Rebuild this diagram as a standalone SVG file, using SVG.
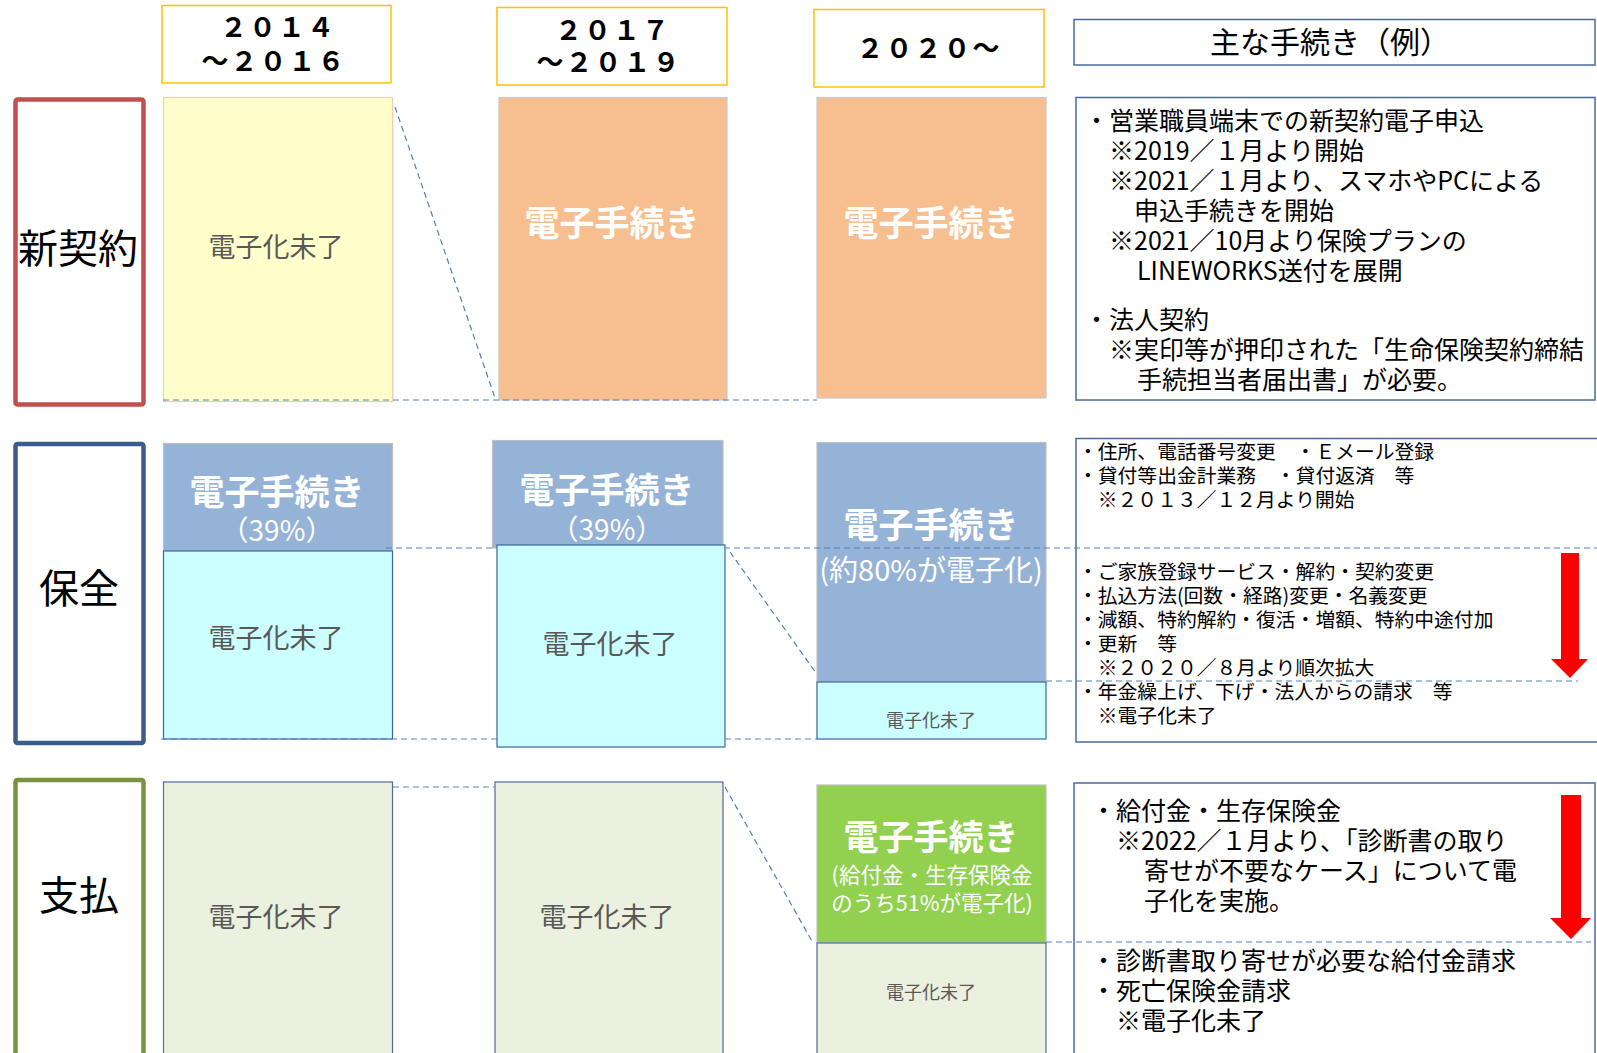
<svg xmlns="http://www.w3.org/2000/svg" width="1597" height="1053" viewBox="0 0 1597 1053">
<style>
text { font-family: "Noto Sans CJK JP", "Noto Sans", sans-serif; }
.hdr { fill:#FFFFFF; stroke:#FFC000; stroke-width:1.5; }
.yr { font-size:27px; font-weight:bold; fill:#000; text-anchor:middle; letter-spacing:2px; }
.lbl { fill:#FFFFFF; stroke-width:4.5; }
.lbltx { font-size:40px; fill:#000; text-anchor:middle; }
.yel { fill:#FFFFCC; stroke:#F8CBAD; stroke-width:1.2; }
.org { fill:#F7BF8F; stroke:#C9C9C9; stroke-width:1.2; }
.blu { fill:#95B3D7; stroke:#BFBFBF; stroke-width:1.2; }
.cyn { fill:#CCFFFF; stroke:#3A66A0; stroke-width:1.2; }
.pgr { fill:#EBF1DE; stroke:#4F6C9A; stroke-width:1.2; }
.grn { fill:#92D050; stroke:#BFBFBF; stroke-width:1.2; }
.rbox { fill:#FFFFFF; stroke:#4A6A9B; stroke-width:1.5; }
.ed { font-size:35px; font-weight:bold; fill:#FFFFFF; text-anchor:middle; }
.edsub { font-size:28px; fill:#FFFFFF; text-anchor:middle; }
.mi { font-size:27px; fill:#595959; text-anchor:middle; }
.mis { font-size:18px; fill:#595959; text-anchor:middle; }
.d25 { font-size:25px; fill:#000; }
.d19 { font-size:19.8px; fill:#000; }
.dash { stroke:#4F81BD; stroke-width:1.2; stroke-dasharray:6 4; fill:none; }
.arr { fill:#FF0000; }
</style>

<!-- Column headers -->
<g id="hdr-2014">
  <rect class="hdr" x="162" y="5.5" width="229" height="77.5"/>
  <text class="yr"><tspan x="278" y="37">２０１４</tspan><tspan x="274" y="71">～２０１６</tspan></text>
</g>
<g id="hdr-2017">
  <rect class="hdr" x="497" y="7.5" width="230" height="77.5"/>
  <text class="yr"><tspan x="613" y="40">２０１７</tspan><tspan x="609" y="72">～２０１９</tspan></text>
</g>
<g id="hdr-2020">
  <rect class="hdr" x="814" y="9.5" width="230" height="77.5"/>
  <text class="yr" x="929" y="58">２０２０～</text>
</g>
<g id="hdr-main">
  <rect class="rbox" x="1074" y="19.5" width="521" height="45.5"/>
  <text x="1330" y="53" style="font-size:30px;fill:#000;text-anchor:middle;">主な手続き（例）</text>
</g>

<!-- Row labels -->
<g id="row-shinkeiyaku">
  <rect class="lbl" x="15.5" y="99.5" width="128" height="305" rx="2" stroke="#C0504D"/>
  <text class="lbltx" x="78" y="263">新契約</text>
</g>
<g id="row-hozen">
  <rect class="lbl" x="15.5" y="444" width="128" height="299" rx="2" stroke="#385D8A"/>
  <text class="lbltx" x="79" y="603">保全</text>
</g>
<g id="row-shiharai">
  <rect class="lbl" x="15.5" y="780" width="128" height="290" rx="2" stroke="#77933C"/>
  <text class="lbltx" x="79" y="910">支払</text>
</g>

<!-- New contract row -->
<g id="nc-2014">
  <rect class="yel" x="163.5" y="97.5" width="229" height="304"/>
  <text class="mi" x="276" y="257">電子化未了</text>
</g>
<g id="nc-2017">
  <rect class="org" x="499" y="97.5" width="228" height="302.5"/>
  <text class="ed" x="612" y="236">電子手続き</text>
</g>
<g id="nc-2020">
  <rect class="org" x="817" y="97.5" width="229" height="300.5"/>
  <text class="ed" x="931" y="236">電子手続き</text>
</g>
<g id="nc-desc">
  <rect class="rbox" x="1076" y="97.5" width="519" height="302.5"/>
  <text class="d25">
    <tspan x="1084" y="130">・営業職員端末での新契約電子申込</tspan>
    <tspan x="1109" y="160">※2019／１月より開始</tspan>
    <tspan x="1109" y="190">※2021／１月より、スマホやPCによる</tspan>
    <tspan x="1134" y="220">申込手続きを開始</tspan>
    <tspan x="1109" y="250">※2021／10月より保険プランの</tspan>
    <tspan x="1137" y="280">LINEWORKS送付を展開</tspan>
  </text>
  <text class="d25">
    <tspan x="1084" y="329">・法人契約</tspan>
    <tspan x="1109" y="359">※実印等が押印された「生命保険契約締結</tspan>
    <tspan x="1137" y="389">手続担当者届出書」が必要。</tspan>
  </text>
</g>

<!-- Maintenance row -->
<g id="hz-2014">
  <rect class="blu" x="163.5" y="443.5" width="229" height="107.5"/>
  <text class="ed" x="277" y="505">電子手続き</text>
  <text class="edsub" x="277" y="541">（39%）</text>
  <rect class="cyn" x="163.5" y="551" width="229" height="188"/>
  <text class="mi" x="276" y="648">電子化未了</text>
</g>
<g id="hz-2017">
  <rect class="blu" x="492.5" y="440.5" width="230.5" height="107.5"/>
  <text class="ed" x="607" y="503">電子手続き</text>
  <text class="edsub" x="607" y="540">（39%）</text>
  <rect class="cyn" x="497" y="545" width="228" height="202"/>
  <text class="mi" x="610" y="654">電子化未了</text>
</g>
<g id="hz-2020">
  <rect class="blu" x="817" y="442.5" width="229" height="239.5"/>
  <text class="ed" x="931" y="538">電子手続き</text>
  <text class="edsub" x="931" y="581" style="font-size:29px">(約80%が電子化)</text>
  <rect class="cyn" x="817" y="682" width="229" height="57"/>
  <text class="mis" x="931" y="727">電子化未了</text>
</g>
<g id="hz-desc">
  <rect class="rbox" x="1076" y="438.5" width="530" height="303.5"/>
  <text class="d19">
    <tspan x="1078" y="459">・住所、電話番号変更　・Ｅメール登録</tspan>
    <tspan x="1078" y="483">・貸付等出金計業務　・貸付返済　等</tspan>
    <tspan x="1078" y="507">　※２０１３／１２月より開始</tspan>
  </text>
  <text class="d19">
    <tspan x="1078" y="579">・ご家族登録サービス・解約・契約変更</tspan>
    <tspan x="1078" y="603">・払込方法(回数・経路)変更・名義変更</tspan>
    <tspan x="1078" y="627">・減額、特約解約・復活・増額、特約中途付加</tspan>
    <tspan x="1078" y="651">・更新　等</tspan>
    <tspan x="1078" y="675">　※２０２０／８月より順次拡大</tspan>
  </text>
  <text class="d19">
    <tspan x="1078" y="699">・年金繰上げ、下げ・法人からの請求　等</tspan>
    <tspan x="1078" y="723">　※電子化未了</tspan>
  </text>
  <polygon class="arr" points="1561,553 1579,553 1579,659 1588,659 1570,678 1551,659 1561,659"/>
</g>

<!-- Payment row -->
<g id="sh-2014">
  <rect class="pgr" x="163.5" y="782" width="229" height="290"/>
  <text class="mi" x="276" y="927">電子化未了</text>
</g>
<g id="sh-2017">
  <rect class="pgr" x="495" y="782" width="228" height="290"/>
  <text class="mi" x="607" y="927">電子化未了</text>
</g>
<g id="sh-2020">
  <rect class="grn" x="817" y="785" width="229" height="158"/>
  <text class="ed" x="931" y="850">電子手続き</text>
  <text class="edsub" style="font-size:21.5px"><tspan x="932" y="883">(給付金・生存保険金</tspan><tspan x="932" y="911">のうち51%が電子化)</tspan></text>
  <rect class="pgr" x="817" y="943" width="229" height="130"/>
  <text class="mis" x="931" y="999">電子化未了</text>
</g>
<g id="sh-desc">
  <rect class="rbox" x="1074" y="783" width="521" height="290"/>
  <text class="d25">
    <tspan x="1091" y="820">・給付金・生存保険金</tspan>
    <tspan x="1116" y="850">※2022／１月より、「診断書の取り</tspan>
    <tspan x="1144" y="880">寄せが不要なケース」について電</tspan>
    <tspan x="1144" y="910">子化を実施。</tspan>
  </text>
  <text class="d25">
    <tspan x="1091" y="970">・診断書取り寄せが必要な給付金請求</tspan>
    <tspan x="1091" y="1000">・死亡保険金請求</tspan>
    <tspan x="1116" y="1030">※電子化未了</tspan>
  </text>
  <polygon class="arr" points="1561,795 1581,795 1581,918 1591,918 1571,939 1550,918 1561,918"/>
</g>

<!-- Connectors -->
<g id="connectors">
  <line class="dash" x1="395" y1="107" x2="495" y2="398"/>
  <line class="dash" x1="163" y1="400" x2="817" y2="400"/>
  <line class="dash" x1="386" y1="548" x2="492" y2="548"/>
  <line class="dash" x1="724" y1="548" x2="1597" y2="548"/>
  <line class="dash" x1="161" y1="739" x2="497" y2="739"/>
  <line class="dash" x1="725" y1="739" x2="817" y2="739"/>
  <line class="dash" x1="730" y1="552" x2="816" y2="673"/>
  <line class="dash" x1="1046" y1="681" x2="1578" y2="681"/>
  <line class="dash" x1="393" y1="787" x2="495" y2="787"/>
  <line class="dash" x1="725" y1="787" x2="813" y2="943"/>
  <line class="dash" x1="1046" y1="942" x2="1591" y2="942"/>
</g>
</svg>
